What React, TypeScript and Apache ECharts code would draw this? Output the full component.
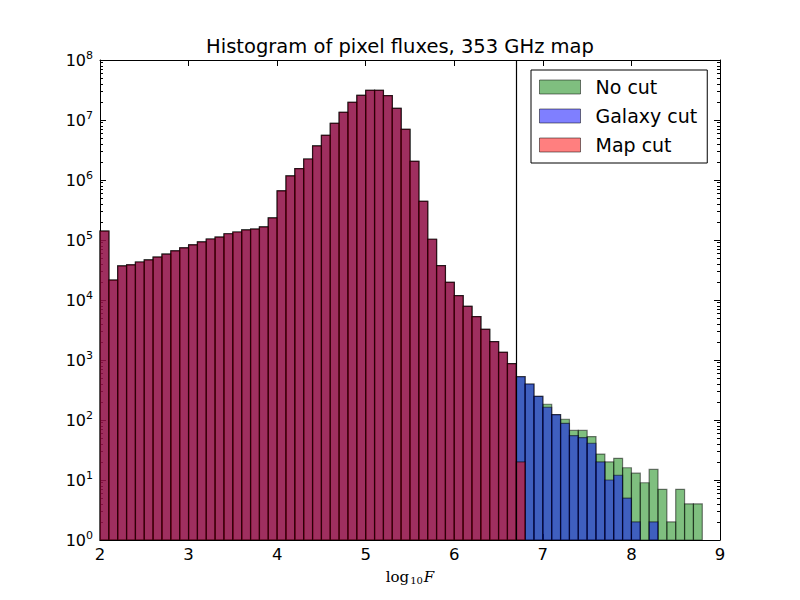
import React, { useEffect, useRef } from "react";
import * as echarts from "echarts";

// ---- data ----
const BIN_MIN = 2.0;
const BIN_WIDTH = 0.1;
const X_MIN = 2;
const X_MAX = 9;
const CUT_X = 6.7;
const SERIES_NAMES = ["No cut", "Galaxy cut", "Map cut"];

// counts shared by all three histograms (bins 2.0 .. 6.7)
const SHARED_COUNTS = [
  1.41e5, 2.15e4, 3.7e4, 3.85e4, 4.3e4, 4.65e4, 5.2e4, 5.8e4, 6.6e4, 7.4e4,
  8.3e4, 9.3e4, 1.04e5, 1.12e5, 1.27e5, 1.36e5, 1.47e5, 1.52e5, 1.65e5, 2.33e5,
  6.6e5, 1.17e6, 1.55e6, 2.24e6, 3.7e6, 5.56e6, 8.8e6, 1.34e7, 1.97e7, 2.57e7,
  3.12e7, 3.12e7, 2.55e7, 1.56e7, 6.99e6, 2.05e6, 4.41e5, 1.03e5, 3.73e4, 1.97e4,
  1.18e4, 7.8e3, 5.3e3, 3.25e3, 2.02e3, 1.34e3, 869,
];
// bins 6.7 .. 8.8
const NO_CUT_TAIL = [527, 398, 248, 183, 123, 103, 67, 67, 53, 27, 20, 23, 16, 13, 9, 15, 7, 2, 7, 4, 4];
const GALAXY_CUT_TAIL = [527, 398, 248, 163, 123, 88, 55, 51, 41, 20, 10, 12, 5, 2, 0, 2, 0, 0, 0, 0, 0];
const MAP_CUT_TAIL = [20, 0, 0, 0, 0, 0, 0, 0, 0, 0, 0, 0, 0, 0, 0, 0, 0, 0, 0, 0, 0];

const NO_CUT = [...SHARED_COUNTS, ...NO_CUT_TAIL];
const GALAXY_CUT = [...SHARED_COUNTS, ...GALAXY_CUT_TAIL];
const MAP_CUT = [...SHARED_COUNTS, ...MAP_CUT_TAIL];

const COLORS = ["rgba(0,128,0,0.5)", "rgba(0,0,255,0.5)", "rgba(255,0,0,0.5)"];
const EDGE = "rgba(0,0,0,0.5)";
const FONT = "DejaVu Sans";

function toBins(counts: number[]) {
  return counts
    .map((c, i) => [BIN_MIN + i * BIN_WIDTH, BIN_MIN + (i + 1) * BIN_WIDTH, c])
    .filter((d) => d[2] > 0);
}

function histSeries(name: string, counts: number[], color: string, extra: any = {}) {
  return {
    type: "custom",
    name,
    xAxisIndex: 0,
    yAxisIndex: 0,
    data: toBins(counts),
    encode: { x: [0, 1], y: 2 },
    itemStyle: { color, borderColor: EDGE, borderWidth: 1 },
    renderItem: (params: any, api: any) => {
      const x0 = api.value(0);
      const x1 = api.value(1);
      const y = api.value(2);
      const p0 = api.coord([x0, y]);
      const p1 = api.coord([x1, 1]);
      return {
        type: "rect",
        shape: { x: p0[0], y: p0[1], width: p1[0] - p0[0], height: p1[1] - p0[1] },
        style: { fill: color, stroke: EDGE, lineWidth: 1.2 },
      };
    },
    ...extra,
  };
}

const tickCommon = {
  axisLine: { show: true, lineStyle: { color: "#000", width: 1 } },
  axisTick: { show: true, inside: true, length: 6, lineStyle: { color: "#000", width: 1 } },
  splitLine: { show: false },
};

export default function App() {
  const ref = useRef<HTMLDivElement>(null);
  useEffect(() => {
    if (!ref.current) return;
    const chart = echarts.init(ref.current, null, { renderer: "svg" });
    const option: any = {
      animation: false,
      backgroundColor: "#fff",
      title: {
        text: "Histogram of pixel fluxes, 353 GHz map",
        left: "center",
        top: 36,
        padding: [0, 0, 0, 20],
        textStyle: { fontSize: 19.5, fontWeight: "normal", fontFamily: FONT, color: "#000" },
      },
      legend: {
        orient: "vertical",
        left: 531,
        top: 70,
        padding: [7, 10, 8, 8],
        itemGap: 9,
        itemWidth: 41,
        itemHeight: 14,
        icon: "rect",
        selectedMode: false,
        borderColor: "#000",
        borderWidth: 1,
        borderRadius: 0,
        backgroundColor: "#fff",
        z: 10,
        textStyle: { fontSize: 19, fontFamily: FONT, color: "#000", lineHeight: 20, padding: [0, 0, 0, 10] },
        data: SERIES_NAMES.map((n, i) => ({
          name: n,
          itemStyle: { color: COLORS[i], borderColor: EDGE, borderWidth: 1 },
        })),
      },
      grid: { left: 100, right: 80, top: 60, bottom: 60, containLabel: false },
      xAxis: [
        {
          type: "value",
          position: "bottom",
          min: X_MIN,
          max: X_MAX,
          interval: 1,
          ...tickCommon,
          axisLabel: { fontSize: 16.5, fontFamily: FONT, color: "#000", margin: 6 },
          name: "{a|log}{b|10}{c|F}",
          nameLocation: "middle",
          nameGap: 28,
          nameTextStyle: {
            color: "#000",
            rich: {
              a: { fontFamily: "DejaVu Serif", fontSize: 15, color: "#000" },
              b: { fontFamily: "DejaVu Serif", fontSize: 10, color: "#000", padding: [7, 1, 0, 1] },
              c: { fontFamily: "DejaVu Serif", fontStyle: "italic", fontSize: 15, color: "#000" },
            },
          },
        },
        {
          type: "value",
          position: "top",
          min: X_MIN,
          max: X_MAX,
          interval: 1,
          ...tickCommon,
          axisLabel: { show: false },
        },
      ],
      yAxis: [
        {
          type: "log",
          logBase: 10,
          position: "left",
          min: 1,
          max: 1e8,
          ...tickCommon,
          minorTick: { show: true, splitNumber: 9, length: 3, lineStyle: { color: "#000", width: 1 } },
          minorSplitLine: { show: false },
          axisLabel: {
            margin: 7,
            color: "#000",
            formatter: (v: number) => `{b|10}{e|${Math.round(Math.log10(v))}}`,
            rich: {
              b: { fontFamily: FONT, fontSize: 16, color: "#000", lineHeight: 20 },
              e: { fontFamily: FONT, fontSize: 11, color: "#000", lineHeight: 8, verticalAlign: "top" },
            },
          },
        },
        {
          type: "log",
          logBase: 10,
          position: "right",
          min: 1,
          max: 1e8,
          ...tickCommon,
          minorTick: { show: true, splitNumber: 9, length: 3, lineStyle: { color: "#000", width: 1 } },
          minorSplitLine: { show: false },
          axisLabel: { show: false },
        },
      ],
      series: [
        histSeries(SERIES_NAMES[0], NO_CUT, COLORS[0]),
        histSeries(SERIES_NAMES[1], GALAXY_CUT, COLORS[1]),
        histSeries(SERIES_NAMES[2], MAP_CUT, COLORS[2], {
          markLine: {
            silent: true,
            symbol: "none",
            label: { show: false },
            lineStyle: { color: "#000", width: 1.2, type: "solid", opacity: 1 },
            data: [{ xAxis: CUT_X }],
          },
        }),
      ],
    };
    chart.setOption(option);
    return () => chart.dispose();
  }, []);
  return <div ref={ref} style={{ width: 800, height: 600, margin: -8 }} />;
}
